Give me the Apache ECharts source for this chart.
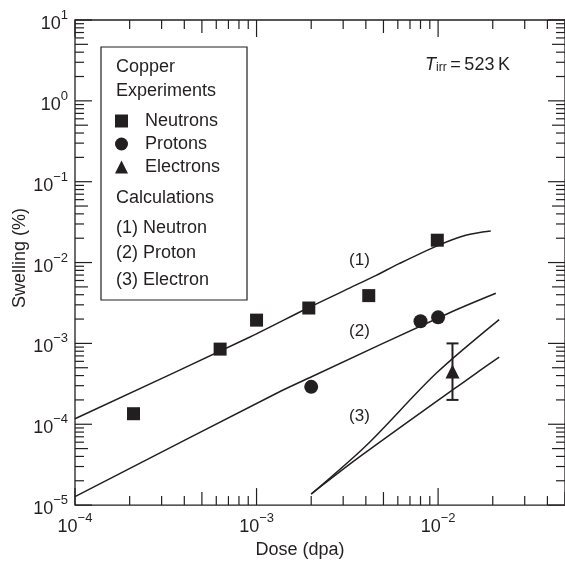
<!DOCTYPE html>
<html>
<head>
<meta charset="utf-8">
<script src="https://cdn.jsdelivr.net/npm/echarts@6/dist/echarts.min.js"></script>
<style>html,body{margin:0;padding:0;background:#fff;}#c{width:565px;height:564px;}</style>
</head>
<body>
<div id="c"></div>
<script>
// ---------- data ----------
const xMin = 1e-4, xMax = 0.05, yMin = 1e-5, yMax = 10;

const neutronX = [2.1e-4, 6.3e-4, 1.0e-3, 1.94e-3, 4.15e-3, 9.9e-3];
const neutronY = [1.35e-4, 8.5e-4, 1.94e-3, 2.74e-3, 3.9e-3, 1.89e-2];
const protonX = [2.0e-3, 8.0e-3, 1.0e-2];
const protonY = [2.9e-4, 1.88e-3, 2.1e-3];
const electronX = [1.2e-2];
const electronY = [4.5e-4];
const electronLow = [2.0e-4];
const electronHigh = [1.0e-3];

const calc1X = [1e-4, 9.2e-4, 1.93e-3, 3.25e-3, 4.56e-3, 6.1e-3, 9.9e-3, 1.42e-2, 1.95e-2];
const calc1Y = [1.17e-4, 1.2e-3, 2.76e-3, 4.83e-3, 6.95e-3, 9.7e-3, 1.61e-2, 2.17e-2, 2.45e-2];
const calc2X = [1e-4, 1.29e-3, 2.01e-3, 1.15e-2, 2.08e-2];
const calc2Y = [1.27e-5, 2.42e-4, 3.87e-4, 2.38e-3, 4.17e-3];
const calc3aX = [2.0e-3, 4.02e-3, 9.73e-3, 2.17e-2];
const calc3aY = [1.37e-5, 5.46e-5, 4.24e-4, 1.97e-3];
const calc3bX = [2.0e-3, 3.69e-3, 1.61e-2, 2.17e-2];
const calc3bY = [1.37e-5, 3.94e-5, 4.24e-4, 6.76e-4];

const annotText = ['(1)', '(2)', '(3)'];
const annotX = [3.69e-3, 3.69e-3, 3.69e-3];
const annotY = [1.06e-2, 1.42e-3, 1.26e-4];

const xDecades = [-4, -3, -2];
const yDecades = [-5, -4, -3, -2, -1, 0, 1];
const mantissas = [1, 2, 3, 4, 5, 6, 7, 8, 9];

// ---------- helpers ----------
const INK = '#231f20';
const FONT = '"Liberation Sans", Arial, sans-serif';
const zip = (a, b) => a.map((v, i) => [v, b[i]]);
function tickLen(m) { return m === 1 ? 17 : (m === 5 ? 13 : 9); }
function buildTicks(decades, lo, hi, other) {
  const out = [];
  decades.forEach(d => mantissas.forEach(m => {
    const v = m * Math.pow(10, d);
    if (v >= lo * 0.9999 && v <= hi * 1.0001) out.push([v, other, tickLen(m)]);
  }));
  return out;
}
const xTickData = buildTicks(xDecades, xMin, xMax, yMin).map(t => [t[0], t[1], t[2]]);
const yTickData = buildTicks(yDecades, yMin, yMax, xMin).map(t => [t[1], t[0], t[2]]);

function powLabel(v) {
  const e = Math.log10(v);
  const r = Math.round(e);
  if (Math.abs(e - r) > 1e-6) return '';
  return '{b|10}{s|' + (r < 0 ? '\u2212' + (-r) : String(r)) + '}';
}
const labelRich = {
  b: { fontSize: 18, lineHeight: 20, verticalAlign: 'bottom', fontFamily: FONT, color: INK },
  s: { fontSize: 13, lineHeight: 13, padding: [0, 0, 11, 0], verticalAlign: 'bottom', fontFamily: FONT, color: INK }
};

const chart = echarts.init(document.getElementById('c'), null, { renderer: 'canvas' });

const option = {
  backgroundColor: '#fff',
  animation: false,
  textStyle: { fontFamily: FONT, color: INK },
  grid: { left: 75, top: 20, width: 491, height: 494, show: true, borderColor: INK, borderWidth: 1.3, backgroundColor: 'transparent' },
  xAxis: {
    type: 'log', logBase: 10, min: xMin, max: xMax,
    axisLine: { show: false }, axisTick: { show: false }, splitLine: { show: false }, minorTick: { show: false },
    axisLabel: { formatter: powLabel, rich: labelRich, margin: 11, showMaxLabel: false, showMinLabel: true },
    name: 'Dose (dpa)', nameLocation: 'middle', nameGap: 34,
    nameTextStyle: { fontSize: 18, color: INK, fontFamily: FONT, padding: [0, 40, 0, 0] }
  },
  yAxis: {
    type: 'log', logBase: 10, min: yMin, max: yMax,
    axisLine: { show: false }, axisTick: { show: false }, splitLine: { show: false }, minorTick: { show: false },
    axisLabel: { formatter: powLabel, rich: labelRich, margin: 7, padding: [6, 0, 0, 0], showMaxLabel: true, showMinLabel: true }
  },
  legend: {
    data: [{ name: 'Neutrons', icon: 'rect' }, { name: 'Protons', icon: 'circle' }, { name: 'Electrons', icon: 'triangle' }],
    orient: 'vertical', left: 115, top: 111, itemWidth: 13, itemHeight: 13, itemGap: 3,
    selectedMode: false, padding: 0,
    itemStyle: { opacity: 1 },
    textStyle: { fontSize: 18, color: INK, fontFamily: FONT, lineHeight: 20, padding: [0, 0, 0, 12] }
  },
  graphic: [
    { type: 'rect', shape: { x: 101, y: 47, width: 146, height: 253 }, style: { fill: 'none', stroke: INK, lineWidth: 1.2 }, silent: true },
    { type: 'text', x: 116, y: 67, style: { text: 'Copper', fontSize: 18, fontFamily: FONT, fill: INK, verticalAlign: 'middle' } },
    { type: 'text', x: 116, y: 91, style: { text: 'Experiments', fontSize: 18, fontFamily: FONT, fill: INK, verticalAlign: 'middle' } },
    { type: 'text', x: 116, y: 198, style: { text: 'Calculations', fontSize: 18, fontFamily: FONT, fill: INK, verticalAlign: 'middle' } },
    { type: 'text', x: 116, y: 228, style: { text: '(1) Neutron', fontSize: 18, fontFamily: FONT, fill: INK, verticalAlign: 'middle' } },
    { type: 'text', x: 116, y: 253, style: { text: '(2) Proton', fontSize: 18, fontFamily: FONT, fill: INK, verticalAlign: 'middle' } },
    { type: 'text', x: 116, y: 280, style: { text: '(3) Electron', fontSize: 18, fontFamily: FONT, fill: INK, verticalAlign: 'middle' } },
    { type: 'text', x: 20, y: 258, rotation: Math.PI / 2, style: { text: 'Swelling (%)', fontSize: 18, fontFamily: FONT, fill: INK, align: 'center', verticalAlign: 'middle' } },
    { type: 'text', x: 425, y: 62, style: {
        text: '{t|T}{i|irr}{n|\u2009=\u2009523\u2009K}', verticalAlign: 'middle',
        rich: {
          t: { fontSize: 18, fontStyle: 'italic', fontFamily: FONT, fill: INK, lineHeight: 24, verticalAlign: 'bottom' },
          i: { fontSize: 12, fontFamily: FONT, fill: INK, lineHeight: 12, verticalAlign: 'bottom' },
          n: { fontSize: 18, fontFamily: FONT, fill: INK, lineHeight: 24, verticalAlign: 'bottom' }
        } } }
  ],
  series: [
    { name: 'calc1', type: 'line', data: zip(calc1X, calc1Y), showSymbol: false, symbol: 'none', smooth: 0.3, lineStyle: { color: INK, width: 1.5 }, silent: true },
    { name: 'calc2', type: 'line', data: zip(calc2X, calc2Y), showSymbol: false, symbol: 'none', smooth: 0.3, lineStyle: { color: INK, width: 1.5 }, silent: true },
    { name: 'calc3a', type: 'line', data: zip(calc3aX, calc3aY), showSymbol: false, symbol: 'none', smooth: 0.3, lineStyle: { color: INK, width: 1.5 }, silent: true },
    { name: 'calc3b', type: 'line', data: zip(calc3bX, calc3bY), showSymbol: false, symbol: 'none', smooth: 0.3, lineStyle: { color: INK, width: 1.5 }, silent: true },
    { name: 'Neutrons', type: 'scatter', symbol: 'rect', symbolSize: 13, data: zip(neutronX, neutronY), itemStyle: { color: INK, opacity: 1 } },
    { name: 'Protons', type: 'scatter', symbol: 'circle', symbolSize: 14, data: zip(protonX, protonY), itemStyle: { color: INK, opacity: 1 } },
    { name: 'Electrons', type: 'scatter', symbol: 'triangle', symbolSize: 14, data: zip(electronX, electronY), itemStyle: { color: INK, opacity: 1 } },
    { name: 'errbar', type: 'custom', silent: true,
      data: electronX.map((x, i) => [x, electronLow[i], electronHigh[i]]),
      encode: { x: 0, y: [1, 2] },
      renderItem: function (params, api) {
        const lo = api.coord([api.value(0), api.value(1)]);
        const hi = api.coord([api.value(0), api.value(2)]);
        const st = { stroke: INK, lineWidth: 2 };
        return { type: 'group', children: [
          { type: 'line', shape: { x1: lo[0], y1: lo[1], x2: hi[0], y2: hi[1] }, style: st },
          { type: 'line', shape: { x1: lo[0] - 6, y1: lo[1], x2: lo[0] + 6, y2: lo[1] }, style: st },
          { type: 'line', shape: { x1: hi[0] - 6, y1: hi[1], x2: hi[0] + 6, y2: hi[1] }, style: st }
        ] };
      } },
    { name: 'annot', type: 'scatter', symbolSize: 0, silent: true,
      data: annotText.map((t, i) => ({ name: t, value: [annotX[i], annotY[i]] })),
      itemStyle: { opacity: 1, color: INK },
      label: { show: true, position: 'inside', formatter: '{b}', fontSize: 17, color: INK, opacity: 1, fontFamily: FONT } },
    { name: 'xticks', type: 'custom', silent: true, data: xTickData, encode: { x: 0, y: 1 },
      renderItem: function (params, api) {
        const v = api.value(0), len = api.value(2);
        const b = api.coord([v, yMin]), t = api.coord([v, yMax]);
        const st = { stroke: INK, lineWidth: 1.2 };
        return { type: 'group', children: [
          { type: 'line', shape: { x1: b[0], y1: b[1], x2: b[0], y2: b[1] - len }, style: st },
          { type: 'line', shape: { x1: t[0], y1: t[1], x2: t[0], y2: t[1] + len }, style: st }
        ] };
      } },
    { name: 'yticks', type: 'custom', silent: true, data: yTickData, encode: { x: 0, y: 1 },
      renderItem: function (params, api) {
        const v = api.value(1), len = api.value(2);
        const l = api.coord([xMin, v]), r = api.coord([xMax, v]);
        const st = { stroke: INK, lineWidth: 1.2 };
        return { type: 'group', children: [
          { type: 'line', shape: { x1: l[0], y1: l[1], x2: l[0] + len, y2: l[1] }, style: st },
          { type: 'line', shape: { x1: r[0], y1: r[1], x2: r[0] - len, y2: r[1] }, style: st }
        ] };
      } }
  ]
};
chart.setOption(option);
</script>
</body>
</html>
